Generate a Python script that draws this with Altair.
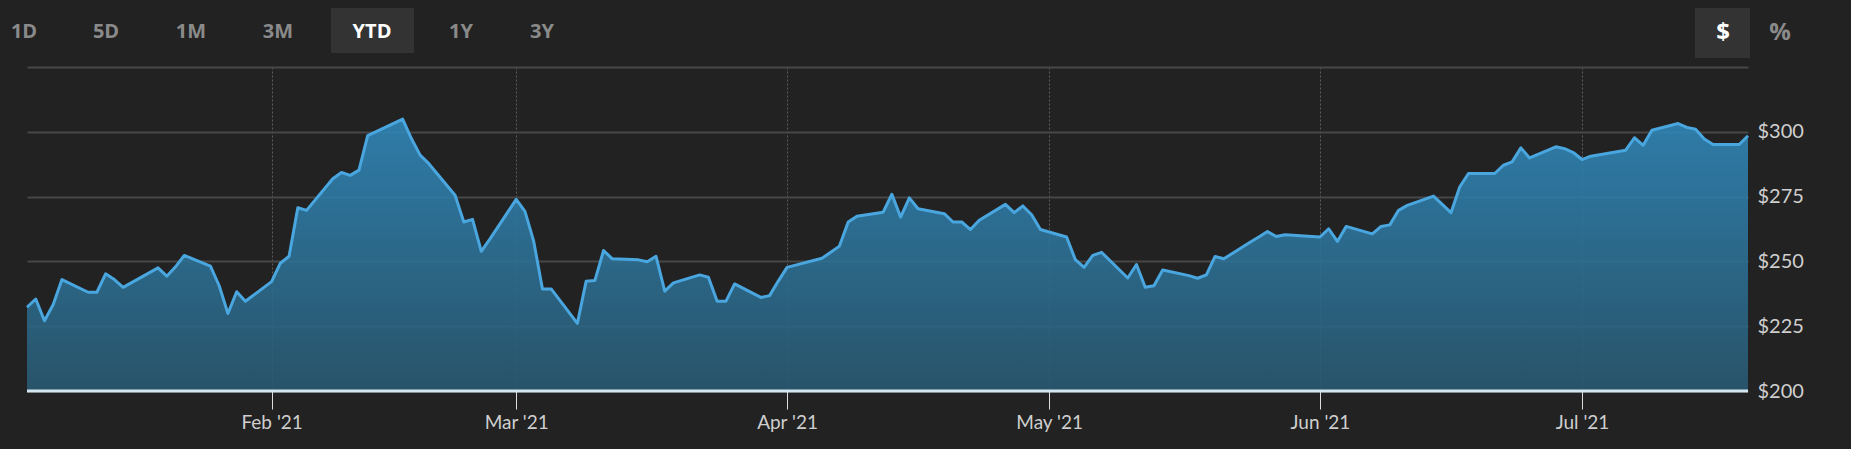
import altair as alt
import pandas as pd
import jinja2

# ---------------- data ----------------
dates = [
    "2021-01-04", "2021-01-05", "2021-01-06", "2021-01-07", "2021-01-08",
    "2021-01-11", "2021-01-12", "2021-01-13", "2021-01-14", "2021-01-15",
    "2021-01-19", "2021-01-20", "2021-01-21", "2021-01-22",
    "2021-01-25", "2021-01-26", "2021-01-27", "2021-01-28", "2021-01-29",
    "2021-02-01", "2021-02-02", "2021-02-03", "2021-02-04", "2021-02-05",
    "2021-02-08", "2021-02-09", "2021-02-10", "2021-02-11", "2021-02-12",
    "2021-02-16", "2021-02-17", "2021-02-18", "2021-02-19",
    "2021-02-22", "2021-02-23", "2021-02-24", "2021-02-25", "2021-02-26",
    "2021-03-01", "2021-03-02", "2021-03-03", "2021-03-04", "2021-03-05",
    "2021-03-08", "2021-03-09", "2021-03-10", "2021-03-11", "2021-03-12",
    "2021-03-15", "2021-03-16", "2021-03-17", "2021-03-18", "2021-03-19",
    "2021-03-22", "2021-03-23", "2021-03-24", "2021-03-25", "2021-03-26",
    "2021-03-29", "2021-03-30", "2021-03-31", "2021-04-01",
    "2021-04-05", "2021-04-06", "2021-04-07", "2021-04-08", "2021-04-09",
    "2021-04-12", "2021-04-13", "2021-04-14", "2021-04-15", "2021-04-16",
    "2021-04-19", "2021-04-20", "2021-04-21", "2021-04-22", "2021-04-23",
    "2021-04-26", "2021-04-27", "2021-04-28", "2021-04-29", "2021-04-30",
    "2021-05-03", "2021-05-04", "2021-05-05", "2021-05-06", "2021-05-07",
    "2021-05-10", "2021-05-11", "2021-05-12", "2021-05-13", "2021-05-14",
    "2021-05-17", "2021-05-18", "2021-05-19", "2021-05-20", "2021-05-21",
    "2021-05-24", "2021-05-25", "2021-05-26", "2021-05-27", "2021-05-28",
    "2021-06-01", "2021-06-02", "2021-06-03", "2021-06-04",
    "2021-06-07", "2021-06-08", "2021-06-09", "2021-06-10", "2021-06-11",
    "2021-06-14", "2021-06-15", "2021-06-16", "2021-06-17", "2021-06-18",
    "2021-06-21", "2021-06-22", "2021-06-23", "2021-06-24", "2021-06-25",
    "2021-06-28", "2021-06-29", "2021-06-30", "2021-07-01", "2021-07-02",
    "2021-07-06", "2021-07-07", "2021-07-08", "2021-07-09",
    "2021-07-12", "2021-07-13", "2021-07-14", "2021-07-15", "2021-07-16",
    "2021-07-19", "2021-07-20",
]

prices = [
    # January
    232.3, 235.5, 227.1, 233.4, 243.0, 238.1, 238.1, 245.2, 243.0, 240.0,
    247.5, 244.3, 247.9, 252.3, 248.2, 240.6, 229.9, 238.3, 234.6,
    # February
    242.2, 249.3, 252.0, 270.7, 269.7, 281.9, 284.3, 283.2, 285.2, 298.5,
    304.9, 297.4, 291.0, 287.7, 275.5, 265.2, 266.2, 253.9, 258.7,
    # March
    273.9, 269.3, 257.8, 239.4, 239.4, 226.1, 242.3, 242.6, 254.2, 251.0,
    250.6, 249.9, 252.0, 238.5, 241.7, 244.8, 243.9, 234.6, 234.6, 241.3,
    236.1, 236.8, 242.4,
    # April
    247.7, 251.2, 253.5, 255.9, 265.2, 267.4, 269.0, 275.9, 267.1, 274.5,
    270.3, 268.4, 265.2, 265.2, 262.3, 265.9, 272.0, 268.8, 271.4, 268.0,
    262.3,
    # May
    259.4, 250.7, 247.7, 252.3, 253.5, 243.6, 248.8, 240.0, 240.6, 246.7,
    244.5, 243.5, 244.8, 251.9, 251.0, 257.4, 259.4, 261.5, 259.6, 260.3,
    # June
    259.4, 262.6, 257.7, 263.5, 260.6, 263.5, 264.1, 269.7, 271.6, 275.2,
    272.0, 268.8, 278.7, 283.9, 283.9, 287.1, 288.4, 293.8, 289.9, 294.2,
    293.5, 292.0,
    # July
    289.3, 290.6, 292.9, 297.7, 294.8, 300.6, 303.2, 301.7, 301.0, 297.2,
    295.1, 295.1, 298.5,
]

range_buttons = ["1D", "5D", "1M", "3M", "YTD", "1Y", "3Y"]
selected_range = "YTD"
unit_buttons = ["$", "%"]
selected_unit = "$"

y_ticks = [200, 225, 250, 275, 300, 325]
month_ticks = [2, 3, 4, 5, 6, 7]

# ---------------- layout / style ----------------
BG = "#222222"
PLOT_W, PLOT_H = 1721, 324
range_btn_x = [-3, 79, 164, 251, 345, 434, 515]
unit_btn_x = [1696, 1753]
BTN_Y = -35

df = pd.DataFrame({"date": dates, "price": prices})

x_enc = alt.X(
    "date:T",
    scale=alt.Scale(
        type="utc",
        domain=[alt.DateTime(year=2021, month=1, date=4, utc=True),
                alt.DateTime(year=2021, month=7, date=20, utc=True)],
        nice=False,
    ),
    axis=alt.Axis(
        values=[alt.DateTime(year=2021, month=m, date=1, utc=True) for m in month_ticks],
        format="%b '%y",
        title=None,
        labelColor="#cfcfcf",
        labelFont="Lato",
        labelFontSize=19,
        labelPadding=4,
        tickColor="#dddddd",
        tickSize=18,
        tickWidth=1,
        domain=False,
        grid=True,
        gridColor="#5c5c5c",
        gridDash=[2, 2],
        gridWidth=1,
    ),
)

y_enc = alt.Y(
    "price:Q",
    scale=alt.Scale(domain=[200, 325], nice=False, zero=False),
    axis=alt.Axis(
        orient="right",
        values=y_ticks,
        labelExpr="datum.value >= 325 ? '' : '$' + datum.value",
        title=None,
        labelColor="#cfcfcf",
        labelFont="Lato",
        labelFontSize=20,
        labelPadding=9,
        ticks=False,
        domain=False,
        grid=True,
        gridColor="#474747",
        gridWidth=2,
    ),
)

area = alt.Chart(df).mark_area(
    fillOpacity=0.88,
    fill=alt.Gradient(
        gradient="linear",
        stops=[alt.GradientStop(color="#3089bc", offset=0),
               alt.GradientStop(color="#295a73", offset=1)],
        x1=1, x2=1, y1=0, y2=1,
    ),
).encode(x=x_enc, y=y_enc, y2=alt.datum(200))

line = alt.Chart(df).mark_line(color="#4aa6df", strokeWidth=3, strokeJoin="round").encode(
    x="date:T", y="price:Q"
)

one = pd.DataFrame({"k": [0]})

baseline = alt.Chart(one).mark_rule(color="#d3e7f2", strokeWidth=3).encode(y=alt.datum(200))

layers = [area, line, baseline]

# range selector boxes
sel_i = range_buttons.index(selected_range)
layers.append(
    alt.Chart(one).mark_rect(color="#333333").encode(
        x=alt.value(range_btn_x[sel_i] - 41), x2=alt.value(range_btn_x[sel_i] + 42),
        y=alt.value(-59), y2=alt.value(-14),
    )
)
uni_i = unit_buttons.index(selected_unit)
layers.append(
    alt.Chart(one).mark_rect(color="#333333").encode(
        x=alt.value(unit_btn_x[uni_i] - 28), x2=alt.value(unit_btn_x[uni_i] + 27),
        y=alt.value(-59), y2=alt.value(-9),
    )
)
for lab, px in zip(range_buttons, range_btn_x):
    layers.append(
        alt.Chart(one).mark_text(
            font="Open Sans", fontSize=20, fontWeight="bold", align="center", baseline="middle",
            color="#ffffff" if lab == selected_range else "#8a8a8a",
        ).encode(x=alt.value(px), y=alt.value(BTN_Y), text=alt.value(lab))
    )
for lab, px in zip(unit_buttons, unit_btn_x):
    layers.append(
        alt.Chart(one).mark_text(
            font="Open Sans", fontSize=24, fontWeight="bold", align="center", baseline="middle",
            color="#ffffff" if lab == selected_unit else "#8a8a8a",
        ).encode(x=alt.value(px), y=alt.value(BTN_Y + 1), text=alt.value(lab))
    )

chart = alt.layer(*layers).properties(
    width=PLOT_W,
    height=PLOT_H,
    padding={"left": 19, "top": 59, "right": 90, "bottom": 45},
    autosize=alt.AutoSizeParams(type="none"),
    background=BG,
).configure_view(stroke=None)

# same page as the standard template, but with the dark page background
page_template = jinja2.Template("""<!DOCTYPE html>
<html>
<head>
  <style>
    html, body { background: #222222; }
    #{{ output_div }}.vega-embed { width: 100%; display: flex; }
    #{{ output_div }}.vega-embed details,
    #{{ output_div }}.vega-embed details summary { position: relative; }
  </style>
  <script type="text/javascript" src="{{ base_url }}/vega@{{ vega_version }}"></script>
  <script type="text/javascript" src="{{ base_url }}/vega-lite@{{ vegalite_version }}"></script>
  <script type="text/javascript" src="{{ base_url }}/vega-embed@{{ vegaembed_version }}"></script>
</head>
<body>
  <div id="{{ output_div }}"></div>
  <script>
    (function(vegaEmbed) {
      var spec = {{ spec }};
      var embedOpt = {{ embed_options }};
      function showError(el, error){
          el.innerHTML = ('<div style="color:red;"><p>JavaScript Error: ' + error.message + '</p></div>');
          throw error;
      }
      const el = document.getElementById('{{ output_div }}');
      vegaEmbed("#{{ output_div }}", spec, embedOpt).catch(error => showError(el, error));
    })(vegaEmbed);
  </script>
</body>
</html>
""")

chart.save("out.html", embed_options={"renderer": "svg", "actions": False}, template=page_template)
